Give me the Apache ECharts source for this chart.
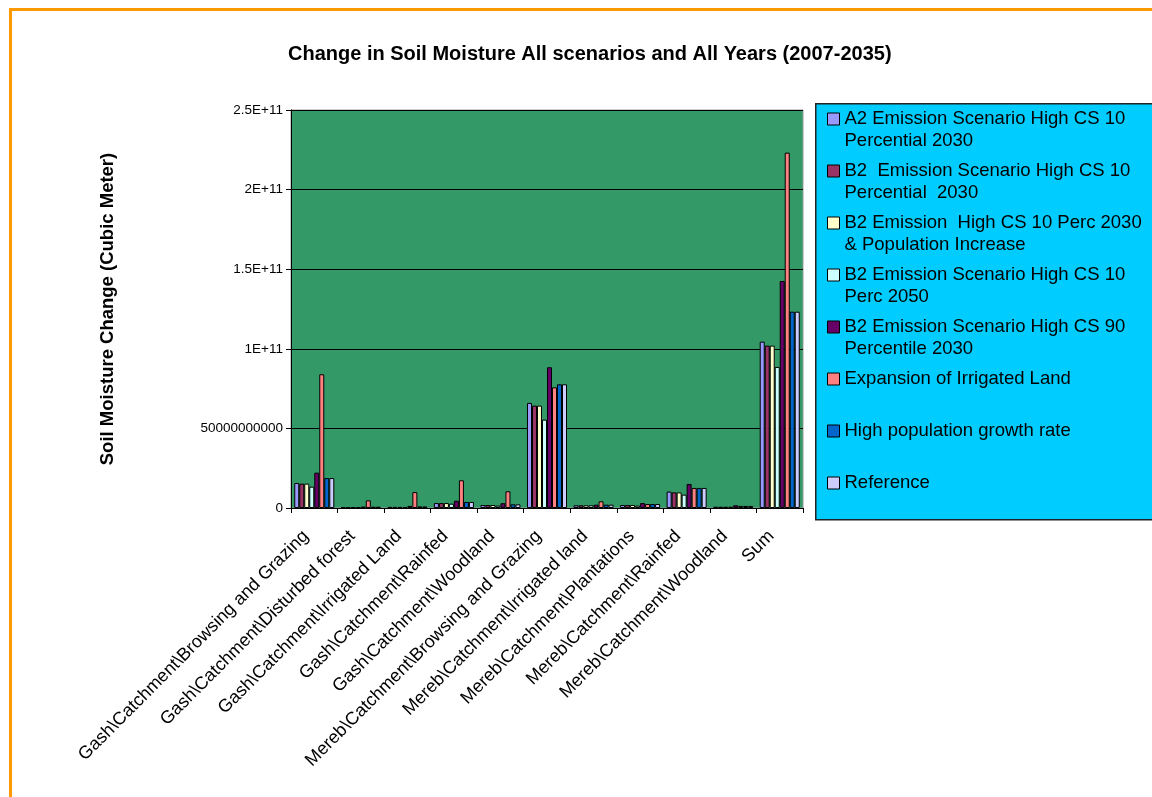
<!DOCTYPE html>
<html>
<head>
<meta charset="utf-8">
<script src="https://cdn.jsdelivr.net/npm/echarts@6/dist/echarts.min.js"></script>
<style>
  body { margin: 0; background: #fff; }
  #wrap { position: relative; width: 1152px; height: 797px; }
  #chart { width: 1152px; height: 797px; }
  #frame {
    position: absolute; left: 9px; top: 8px; right: 0; bottom: 0;
    border-left: 3px solid #ff9900; border-top: 3px solid #ff9900;
    pointer-events: none;
  }
</style>
</head>
<body>
<div id="wrap">
  <div id="chart"></div>
  <div id="frame"></div>
</div>
<script>
// categories (land cover classes per catchment)
const categories = [
  'Gash\\Catchment\\Browsing and Grazing',
  'Gash\\Catchment\\Disturbed forest',
  'Gash\\Catchment\\Irrigated Land',
  'Gash\\Catchment\\Rainfed',
  'Gash\\Catchment\\Woodland',
  'Mereb\\Catchment\\Browsing and Grazing',
  'Mereb\\Catchment\\Irrigated land',
  'Mereb\\Catchment\\Plantations',
  'Mereb\\Catchment\\Rainfed',
  'Mereb\\Catchment\\Woodland',
  'Sum'
];

const yTicks = ['0', '50000000000', '1E+11', '1.5E+11', '2E+11', '2.5E+11'];

// soil moisture change, cubic meter
const a2High10 = [15.7e9, 0.6e9, 0.7e9, 3.1e9, 1.9e9, 66.0e9, 1.7e9, 1.9e9, 10.3e9, 0.8e9, 104.5e9];
const b2High10 = [15.3e9, 0.6e9, 0.7e9, 3.1e9, 1.9e9, 64.3e9, 1.7e9, 1.9e9, 9.8e9, 0.8e9, 102.0e9];
const b2High10Pop = [15.3e9, 0.6e9, 0.7e9, 3.1e9, 1.9e9, 64.3e9, 1.7e9, 1.9e9, 9.8e9, 0.8e9, 102.0e9];
const b2High10In2050 = [13.4e9, 0.5e9, 0.6e9, 2.7e9, 1.5e9, 55.5e9, 1.7e9, 1.5e9, 8.4e9, 0.8e9, 88.6e9];
const b2High90 = [22.2e9, 0.9e9, 1.3e9, 4.6e9, 3.0e9, 88.4e9, 2.1e9, 3.1e9, 15.1e9, 1.7e9, 142.6e9];
const irrigExpansion = [84.0e9, 4.8e9, 10.0e9, 17.4e9, 10.5e9, 75.8e9, 4.2e9, 2.5e9, 12.6e9, 1.3e9, 223.2e9];
const highPopGrowth = [18.8e9, 0.8e9, 1.0e9, 3.8e9, 2.3e9, 77.7e9, 2.1e9, 2.5e9, 12.6e9, 1.3e9, 123.3e9];
const reference = [18.8e9, 0.8e9, 1.0e9, 3.8e9, 2.3e9, 77.7e9, 2.1e9, 2.5e9, 12.6e9, 1.3e9, 123.3e9];

const seriesNames = [
  'A2 Emission Scenario High CS 10 Percential 2030',
  'B2  Emission Scenario High CS 10 Percential  2030',
  'B2 Emission  High CS 10 Perc 2030 & Population Increase',
  'B2 Emission Scenario High CS 10 Perc 2050',
  'B2 Emission Scenario High CS 90 Percentile 2030',
  'Expansion of Irrigated Land',
  'High population growth rate',
  'Reference'
];
// legend text as wrapped in the original
const legendLines = [
  ['A2 Emission Scenario High CS 10', 'Percential 2030'],
  ['B2  Emission Scenario High CS 10', 'Percential  2030'],
  ['B2 Emission  High CS 10 Perc 2030', '& Population Increase'],
  ['B2 Emission Scenario High CS 10', 'Perc 2050'],
  ['B2 Emission Scenario High CS 90', 'Percentile 2030'],
  ['Expansion of Irrigated Land', ' '],
  ['High population growth rate', ' '],
  ['Reference', ' ']
];
const seriesData = [a2High10, b2High10, b2High10Pop, b2High10In2050, b2High90, irrigExpansion, highPopGrowth, reference];
const colors = ['#9999ff', '#993366', '#ffffcc', '#ccffff', '#660066', '#ff8080', '#0066cc', '#ccccff'];

const chart = echarts.init(document.getElementById('chart'));

const font = '"Liberation Sans", Arial, sans-serif';

chart.setOption({
  backgroundColor: '#fff',
  color: colors,
  textStyle: { fontFamily: font },
  title: {
    text: 'Change in Soil Moisture All scenarios and All Years (2007-2035)',
    left: 283,
    top: 39,
    textStyle: { fontFamily: font, fontSize: 20, fontWeight: 'bold', color: '#000' }
  },
  graphic: [
    {
      type: 'rect',
      left: 815,
      top: 103,
      z: -1,
      shape: { width: 345, height: 416 },
      style: { fill: '#00ccff', stroke: '#222', lineWidth: 1.5 }
    }
  ],
  legend: {
    orient: 'vertical',
    left: 827,
    top: 86,
    padding: 0,
    itemGap: -14,
    itemWidth: 12,
    itemHeight: 12,
    icon: 'rect',
    itemStyle: { borderColor: '#000', borderWidth: 1 },
    formatter: name => {
      const l = legendLines[seriesNames.indexOf(name)];
      return '\n' + l[0] + '\n' + l[1];
    },
    textStyle: { fontFamily: font, fontSize: 18.5, color: '#000', lineHeight: 22 },
    data: seriesNames
  },
  grid: { left: 291, top: 110, right: 349, bottom: 289, show: true, backgroundColor: '#339966', borderColor: '#999', borderWidth: 1 },
  xAxis: {
    type: 'category',
    data: categories,
    axisLine: { lineStyle: { color: '#000', width: 1 } },
    axisTick: { show: true, length: 5, lineStyle: { color: '#000' } },
    axisLabel: {
      rotate: 45, fontSize: 18, color: '#000', margin: 17, interval: 0, fontFamily: font,
      padding: [0, 12, 0, 0]
    }
  },
  yAxis: {
    type: 'value',
    min: 0,
    max: 2.5e11,
    interval: 5e10,
    name: 'Soil Moisture Change (Cubic Meter)',
    nameLocation: 'middle',
    nameGap: 174,
    nameTextStyle: { fontFamily: font, fontSize: 18.5, fontWeight: 'bold', color: '#000' },
    axisLine: { show: true, lineStyle: { color: '#000', width: 1 } },
    axisTick: { show: true, length: 5, lineStyle: { color: '#000' } },
    axisLabel: {
      fontSize: 13.5, color: '#000', margin: 8, fontFamily: font,
      formatter: v => yTicks[Math.round(v / 5e10)]
    },
    splitLine: { lineStyle: { color: '#000', width: 1 } }
  },
  series: seriesNames.map((n, i) => ({
    name: n,
    type: 'bar',
    data: seriesData[i],
    barGap: '0%',
    barCategoryGap: '14%',
    itemStyle: { borderColor: '#000', borderWidth: 1 },
    animation: false
  }))
});
</script>
</body>
</html>
